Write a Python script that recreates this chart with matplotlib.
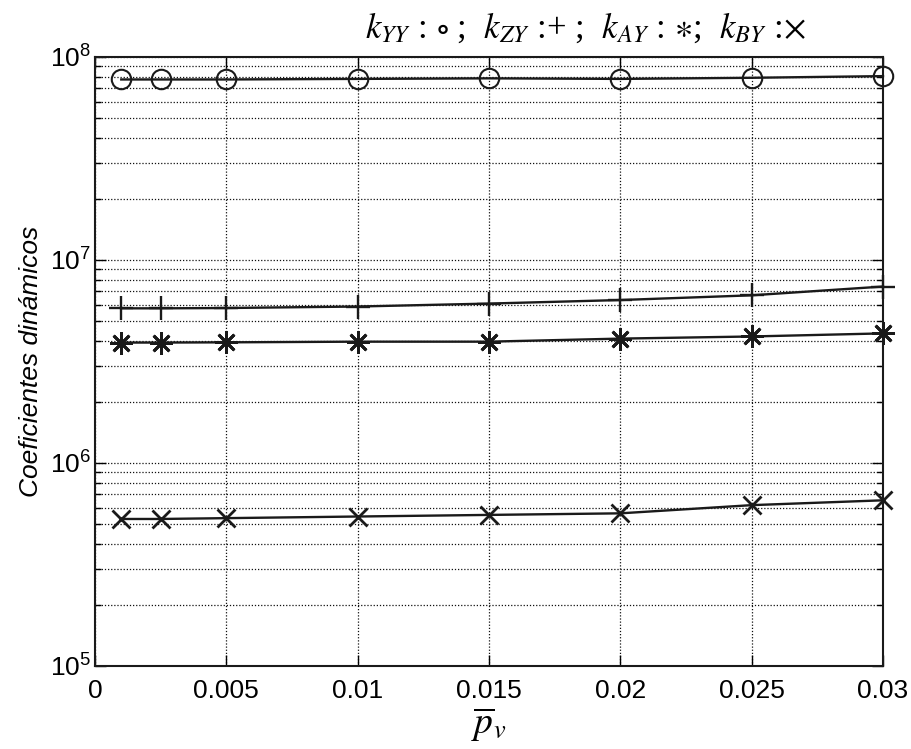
import math
import matplotlib
matplotlib.use("Agg")
import matplotlib.pyplot as plt
from matplotlib.ticker import FixedLocator, LogLocator, FuncFormatter, NullFormatter

# data
p_v = [0.001, 0.0025, 0.005, 0.01, 0.015, 0.02, 0.025, 0.03]
k_yy = [7.75e7, 7.75e7, 7.75e7, 7.8e7, 7.85e7, 7.8e7, 7.9e7, 8.05e7]
k_zy = [5.78e6, 5.78e6, 5.8e6, 5.9e6, 6.1e6, 6.35e6, 6.7e6, 7.4e6]
k_ay = [3.92e6, 3.92e6, 3.93e6, 3.96e6, 3.96e6, 4.1e6, 4.2e6, 4.35e6]
k_by = [5.3e5, 5.3e5, 5.35e5, 5.45e5, 5.55e5, 5.65e5, 6.2e5, 6.55e5]

x_ticks = [0, 0.005, 0.01, 0.015, 0.02, 0.025, 0.03]

plt.rcParams['font.family'] = ['Liberation Sans', 'DejaVu Sans']

fig = plt.figure(figsize=(9.12, 7.49), dpi=100)
ax = fig.add_axes([95 / 912, 1 - 666 / 749, (883 - 95) / 912, (666 - 57) / 749])

line_kw = dict(color='#1a1a1a', linewidth=1.7, clip_on=False, zorder=3)
ax.plot(p_v, k_yy, marker='o', markersize=14, markerfacecolor='none',
        markeredgewidth=1.5, **line_kw)
ax.plot(p_v, k_zy, marker='+', markersize=17, markeredgewidth=1.7, **line_kw)
ax.plot(p_v, k_ay, marker=(8, 2, 0), markersize=16, markeredgewidth=2.0, **line_kw)
ax.plot(p_v, k_by, marker='x', markersize=13, markeredgewidth=2.0, **line_kw)

ax.set_yscale('log')
ax.set_ylim(1e5, 1e8)
ax.set_xlim(0, 0.03)
ax.xaxis.set_major_locator(FixedLocator(x_ticks))
ax.xaxis.set_major_formatter(FuncFormatter(lambda v, pos: '%g' % v))
ax.yaxis.set_major_locator(LogLocator(base=10, numticks=10))
ax.yaxis.set_minor_locator(LogLocator(base=10, subs=range(2, 10), numticks=20))
ax.yaxis.set_minor_formatter(NullFormatter())
ax.yaxis.set_major_formatter(
    FuncFormatter(lambda v, pos: r'$\mathregular{10^{%d}}$' % round(math.log10(v))))

ax.grid(True, which='major', axis='both', linestyle=(0, (1, 1.5)), color='#111111', linewidth=0.9)
ax.grid(True, which='minor', axis='y', linestyle=(0, (1, 1.5)), color='#111111', linewidth=0.9)

ax.tick_params(which='both', direction='in', top=True, right=True, labelsize=19, width=1.0)
ax.tick_params(which='major', length=8)
ax.tick_params(which='minor', length=4)
ax.tick_params(axis='x', pad=9)
ax.tick_params(axis='y', pad=3)
for s in ax.spines.values():
    s.set_linewidth(1.5)
    s.set_color('#1a1a1a')

fig.text(585 / 912, 1 - 28 / 749,
         r'$k_{YY}$ : $\circ$ ;  $k_{ZY}$ :+ ;  $k_{AY}$ : $\ast$;  $k_{BY}$ :$\times$',
         fontsize=25, fontfamily='Liberation Serif', math_fontfamily='stix',
         ha='center', va='center')
ax.set_xlabel(r'$\overline{p}_{v}$', fontsize=27, math_fontfamily='stix', labelpad=2)
ax.set_ylabel('Coeficientes dinámicos', fontsize=19, fontstyle='italic', labelpad=5)

fig.savefig('out.png', dpi=100)
